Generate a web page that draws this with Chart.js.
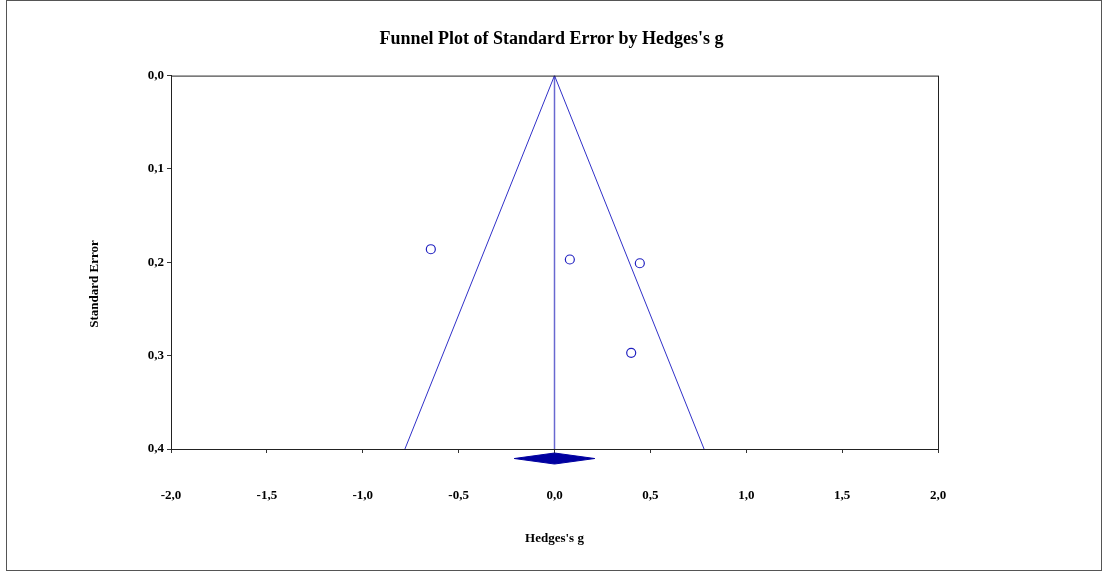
<!DOCTYPE html>
<html>
<head>
<meta charset="utf-8">
<title>Funnel Plot</title>
<script src="https://cdn.jsdelivr.net/npm/chart.js@4.4.0/dist/chart.umd.min.js"></script>
<style>
  html, body { margin: 0; padding: 0; background: #fff; }
  #wrap { width: 1103px; height: 573px; }
</style>
</head>
<body>
<div id="wrap"><canvas id="funnelChart" width="1103" height="573"></canvas></div>
<script>
// Studies (Hedges's g vs standard error)
const studyG = [-0.645, 0.08, 0.445, 0.40];
const studySE = [0.186, 0.197, 0.201, 0.297];

// Funnel (pseudo 95% limits) and centre line
const funnelG = [-0.78, 0.0, 0.78];
const funnelSE = [0.4, 0.0, 0.4];
const centreG = [0.0, 0.0];
const centreSE = [0.0, 0.4];

// Summary diamond drawn just under the axis
const diamondG = [-0.21, 0.0, 0.21, 0.0, -0.21];
const diamondSE = [0.4102, 0.4043, 0.4102, 0.4161, 0.4102];

// Axis ticks
const xTicks = [-2.0, -1.5, -1.0, -0.5, 0.0, 0.5, 1.0, 1.5, 2.0];
const yTicks = [0.0, 0.1, 0.2, 0.3, 0.4];

const serif = '"Liberation Serif", "Times New Roman", serif';
const toPts = (xs, ys) => xs.map((x, i) => ({ x: x, y: ys[i] }));
const comma = v => Number(v).toFixed(1).replace('.', ',');

// outer frame, plot box, filled diamond and rotated y title
const framePlugin = {
    id: 'frame',
    afterDatasetsDraw(chart) {
        // the filler clips to the chart area, so fill the diamond here
        const meta = chart.getDatasetMeta(3);
        const ctx = chart.ctx;
        ctx.save();
        ctx.beginPath();
        meta.data.forEach((p, i) => i ? ctx.lineTo(p.x, p.y) : ctx.moveTo(p.x, p.y));
        ctx.closePath();
        ctx.fillStyle = '#0000a0';
        ctx.fill();
        ctx.restore();
    },
    afterDraw(chart) {
        const ctx = chart.ctx;
        const a = chart.chartArea;
        ctx.save();
        ctx.strokeStyle = '#222';
        ctx.lineWidth = 1;
        ctx.strokeRect(a.left + 0.5, a.top + 0.5, a.right - a.left, a.bottom - a.top);
        ctx.strokeStyle = '#555';
        ctx.strokeRect(6.5, 0.5, 1095, 570);
        ctx.translate(95, 284);
        ctx.rotate(-Math.PI / 2);
        ctx.fillStyle = '#000';
        ctx.font = 'bold 13px ' + serif;
        ctx.textAlign = 'center';
        ctx.textBaseline = 'middle';
        ctx.fillText('Standard Error', 0, 0);
        ctx.restore();
    }
};

const ctx = document.getElementById('funnelChart').getContext('2d');
new Chart(ctx, {
    type: 'scatter',
    data: {
        datasets: [{
                label: 'Funnel',
                data: toPts(funnelG, funnelSE),
                showLine: true,
                borderColor: '#3030c8',
                borderWidth: 1,
                pointRadius: 0,
                fill: false
            },
            {
                label: 'Centre',
                data: toPts(centreG, centreSE),
                showLine: true,
                borderColor: '#6868d0',
                borderWidth: 1.5,
                pointRadius: 0,
                fill: false
            },
            {
                label: 'Studies',
                data: toPts(studyG, studySE),
                showLine: false,
                pointStyle: 'circle',
                pointRadius: 4.5,
                borderColor: '#2020c0',
                backgroundColor: '#fff',
                borderWidth: 1.2
            },
            {
                label: 'Summary',
                data: toPts(diamondG, diamondSE),
                showLine: true,
                borderColor: '#0000a0',
                borderWidth: 1,
                pointRadius: 0,
                fill: false,
                clip: false
            }
        ]
    },
    options: {
        responsive: false,
        animation: false,
        layout: {
            padding: 0
        },
        plugins: {
            legend: { display: false },
            tooltip: { enabled: false },
            title: {
                display: true,
                text: "Funnel Plot of Standard Error by Hedges's g",
                color: '#000',
                font: { family: serif, size: 18, weight: 'bold' },
                padding: { top: 29, bottom: 25 }
            }
        },
        scales: {
            x: {
                type: 'linear',
                min: -2,
                max: 2,
                afterFit(scale) { scale.height = 124; },
                afterBuildTicks(scale) { scale.ticks = xTicks.map(v => ({ value: v })); },
                ticks: {
                    callback: comma,
                    color: '#000',
                    font: { family: serif, size: 13, weight: 'bold' },
                    padding: 35,
                    maxRotation: 0
                },
                grid: { drawOnChartArea: false, drawTicks: true, tickLength: 4, color: '#333' },
                border: { display: true, color: '#222' },
                title: {
                    display: true,
                    text: "Hedges's g",
                    color: '#000',
                    font: { family: serif, size: 13, weight: 'bold' },
                    padding: { top: 0, bottom: 27 }
                }
            },
            y: {
                type: 'linear',
                reverse: true,
                min: 0,
                max: 0.4,
                afterFit(scale) { scale.width = 171; },
                afterBuildTicks(scale) { scale.ticks = yTicks.map(v => ({ value: v })); },
                ticks: {
                    callback: comma,
                    color: '#000',
                    font: { family: serif, size: 13, weight: 'bold' },
                    padding: 3
                },
                grid: { drawOnChartArea: false, drawTicks: true, tickLength: 4, color: '#333' },
                border: { display: true, color: '#222' }
            },
            // empty right-hand gutter so the title stays centred on the page
            gutter: {
                type: 'linear',
                position: 'right',
                afterFit(scale) { scale.width = 165; },
                ticks: { display: false },
                grid: { display: false },
                border: { display: false }
            }
        }
    },
    plugins: [framePlugin]
});
</script>
</body>
</html>
